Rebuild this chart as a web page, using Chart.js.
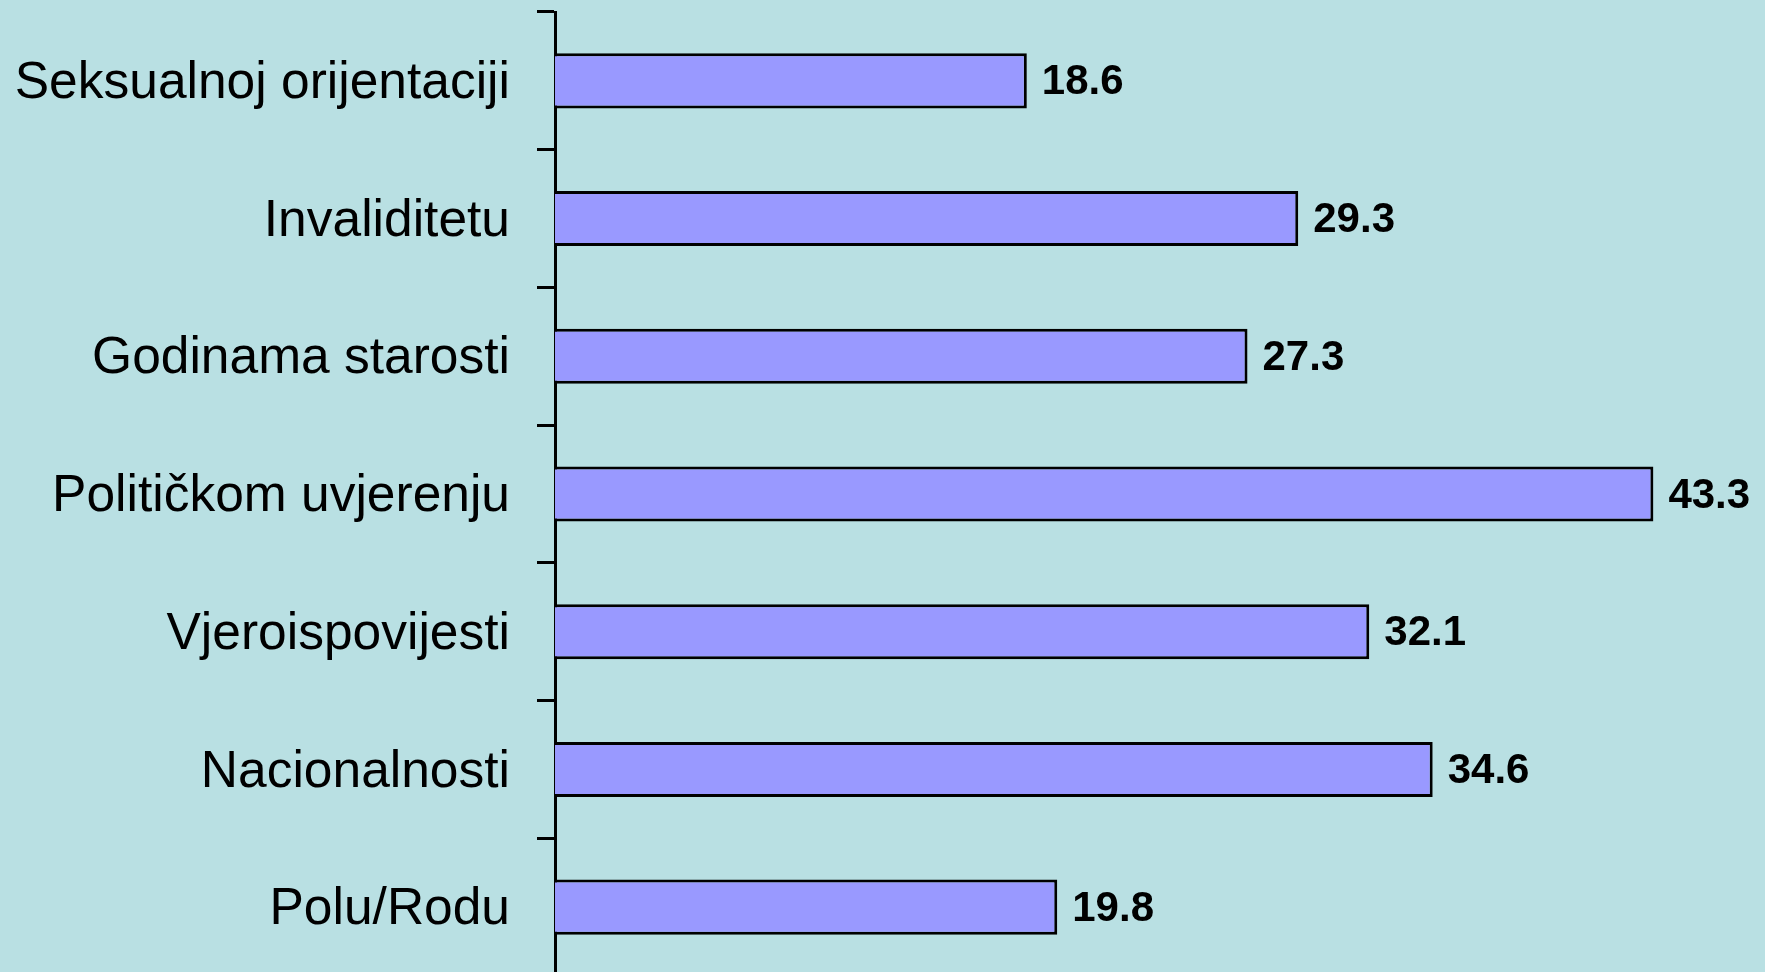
<!DOCTYPE html>
<html>
<head>
<meta charset="utf-8">
<script src="https://cdn.jsdelivr.net/npm/chart.js@4/dist/chart.umd.min.js"></script>
<style>
  html, body { margin: 0; padding: 0; background: #B9E0E3; overflow: hidden; }
  #wrap { width: 1765px; height: 976px; position: relative; }
</style>
</head>
<body>
<div id="wrap"><canvas id="c" width="1765" height="976"></canvas></div>
<script>
const categories = [
  "Seksualnoj orijentaciji",
  "Invaliditetu",
  "Godinama starosti",
  "Političkom uvjerenju",
  "Vjeroispovijesti",
  "Nacionalnosti",
  "Polu/Rodu"
];
const values = [18.6, 29.3, 27.3, 43.3, 32.1, 34.6, 19.8];
const valueAxisMin = 0;
const valueAxisMax = 47.7;

const valueLabels = {
  id: 'valueLabels',
  afterDatasetsDraw(chart) {
    const ctx = chart.ctx;
    const meta = chart.getDatasetMeta(0);
    ctx.save();
    ctx.font = 'bold 42px "Liberation Sans", Arial, sans-serif';
    ctx.fillStyle = '#000';
    ctx.textAlign = 'left';
    ctx.textBaseline = 'middle';
    meta.data.forEach((bar, i) => {
      ctx.fillText(values[i].toFixed(1), bar.x + 15, bar.y + 2);
    });
    ctx.restore();
  }
};

new Chart(document.getElementById('c'), {
  type: 'bar',
  data: {
    labels: categories,
    datasets: [{
      data: values,
      backgroundColor: '#9999FF',
      borderColor: '#000000',
      borderWidth: 3,
      borderSkipped: 'start',
      categoryPercentage: 1.0,
      barPercentage: 0.4
    }]
  },
  options: {
    indexAxis: 'y',
    responsive: false,
    animation: false,
    maintainAspectRatio: false,
    layout: { autoPadding: false, padding: { top: 12, left: 0, right: 0, bottom: 0 } },
    plugins: {
      legend: { display: false },
      tooltip: { enabled: false }
    },
    scales: {
      x: {
        display: false,
        min: valueAxisMin,
        max: valueAxisMax
      },
      y: {
        offset: true,
        afterFit(scale) {
          scale.width = 555;
          scale.paddingTop = 0;
          scale.paddingBottom = 0;
        },
        border: { display: true, color: '#000', width: 3 },
        grid: {
          display: true,
          offset: true,
          drawOnChartArea: false,
          drawTicks: true,
          tickLength: 18,
          tickWidth: 3,
          color: '#000',
          lineWidth: 3
        },
        ticks: {
          color: '#000',
          padding: 27,
          labelOffset: 3,
          font: { family: '"Liberation Sans", Arial, sans-serif', size: 51.5 }
        }
      }
    }
  },
  plugins: [valueLabels]
});
</script>
</body>
</html>
